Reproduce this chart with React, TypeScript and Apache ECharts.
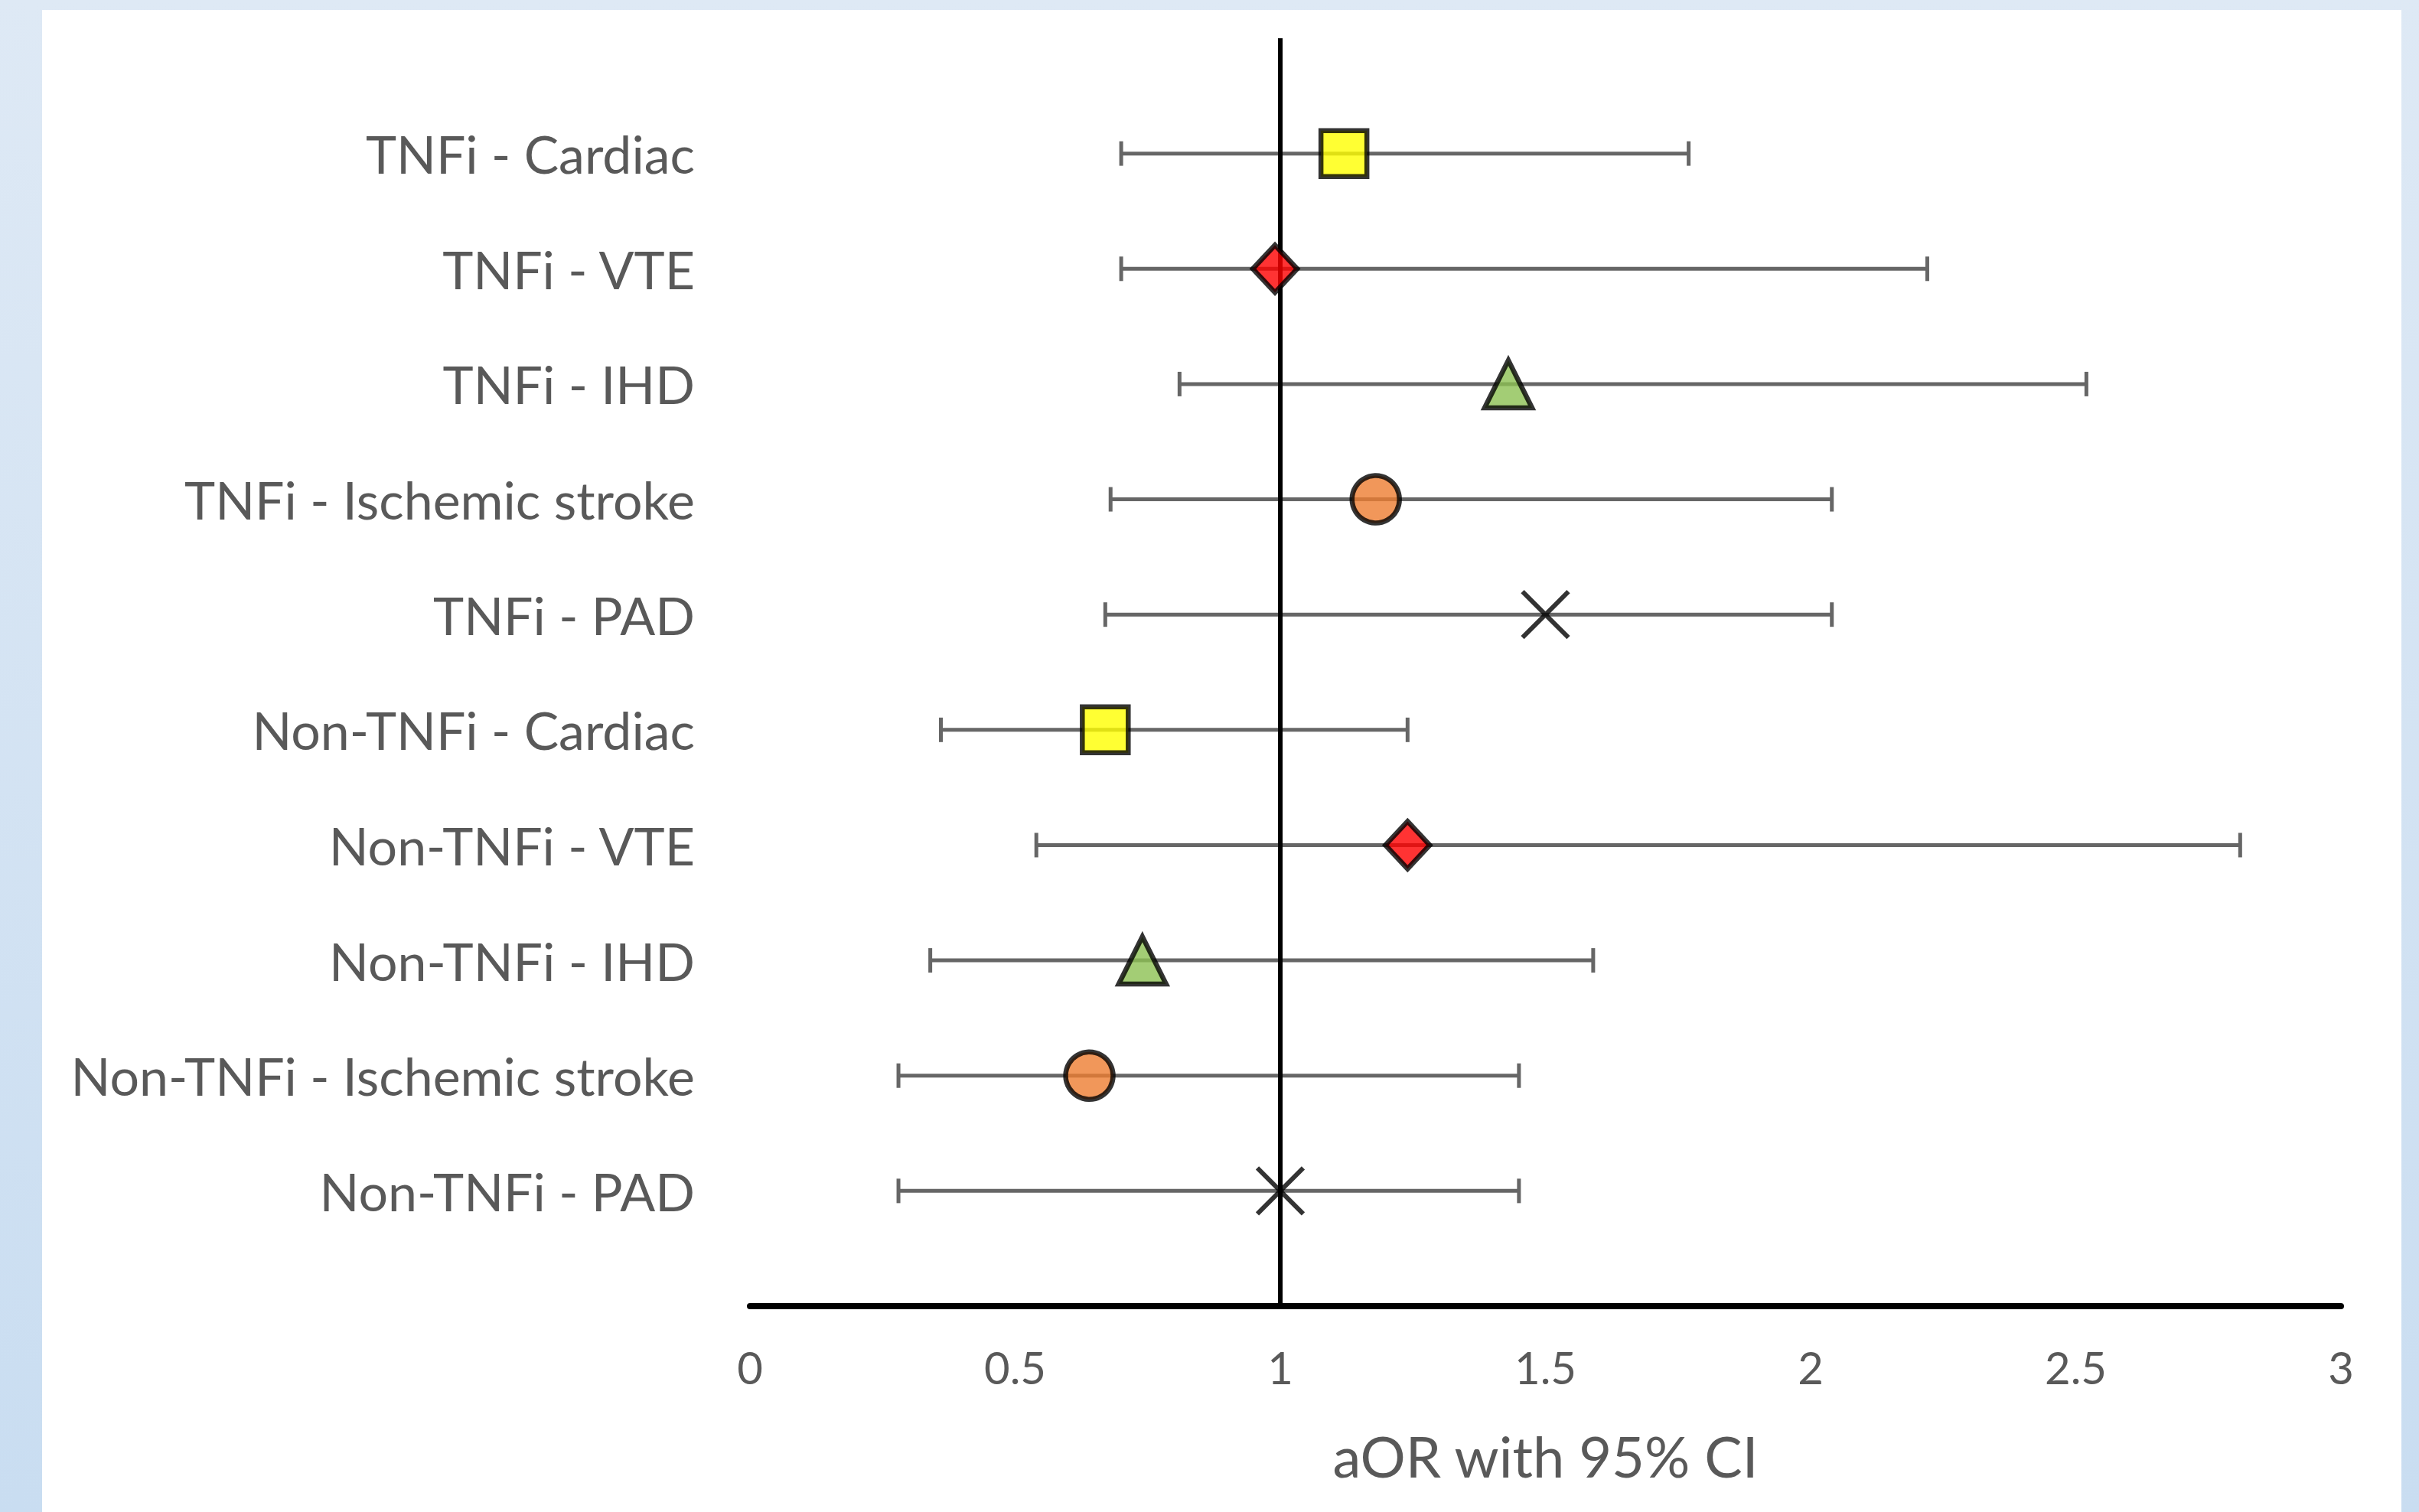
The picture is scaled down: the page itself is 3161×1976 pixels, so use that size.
import React, { useEffect, useRef } from "react";
import * as echarts from "echarts";

const categories = [
  "TNFi - Cardiac",
  "TNFi - VTE",
  "TNFi - IHD",
  "TNFi - Ischemic stroke",
  "TNFi - PAD",
  "Non-TNFi - Cardiac",
  "Non-TNFi - VTE",
  "Non-TNFi - IHD",
  "Non-TNFi - Ischemic stroke",
  "Non-TNFi - PAD",
];
const aor = [1.12, 0.99, 1.43, 1.18, 1.5, 0.67, 1.24, 0.74, 0.64, 1.0];
const ciLow = [0.7, 0.7, 0.81, 0.68, 0.67, 0.36, 0.54, 0.34, 0.28, 0.28];
const ciHigh = [1.77, 2.22, 2.52, 2.04, 2.04, 1.24, 2.81, 1.59, 1.45, 1.45];
const outcomes = ["Cardiac", "VTE", "IHD", "Ischemic stroke", "PAD"];
const xTicks = [0, 0.5, 1, 1.5, 2, 2.5, 3];

const FONT = "Lato";
const TEXT = "#595959";

export default function App() {
  const ref = useRef<HTMLDivElement>(null);
  useEffect(() => {
    if (!ref.current) return;
    const chart = echarts.init(ref.current, undefined, { renderer: "svg" });
    const n = categories.length;
    const yOf = (i: number) => n - i;

    const symbolFor: Record<string, any> = {
      Cardiac: { symbol: "rect", color: "#FFFF00", size: 60 },
      VTE: { symbol: "diamond", color: "#FF0000", size: [58, 62] },
      IHD: { symbol: "triangle", color: "#8CC152", size: [62, 62] },
      "Ischemic stroke": { symbol: "circle", color: "#ED7D31", size: 62 },
      PAD: { symbol: "path://M0,0L10,10M10,0L0,10", color: "rgba(0,0,0,0)", size: 60 },
    };

    const errData = categories.map((_, i) => [ciLow[i], ciHigh[i], yOf(i)]);

    const scatterSeries = outcomes.map((o, k) => {
      const s = symbolFor[o];
      const data: number[][] = [];
      categories.forEach((_, i) => {
        if (i % outcomes.length === k) data.push([aor[i], yOf(i)]);
      });
      return {
        type: "scatter",
        name: o,
        z: 5,
        symbol: s.symbol,
        symbolSize: s.size,
        itemStyle: {
          color: s.color,
          borderColor: "#000",
          borderWidth: o === "PAD" ? 6 : 6.5,
        },
        data,
      };
    });

    chart.setOption({
      animation: false,
      backgroundColor: "transparent",
      grid: { left: 980, right: 102, top: 50, bottom: 269, containLabel: false },
      xAxis: {
        type: "value",
        min: 0,
        max: 3,
        interval: 0.5,
        axisLine: { show: true, lineStyle: { color: "#000", width: 8 } },
        axisTick: { show: false },
        splitLine: { show: false },
        axisLabel: {
          color: TEXT,
          fontFamily: FONT,
          fontSize: 58,
          margin: 50,
          formatter: (v: number) => (xTicks.includes(v) ? String(v) : ""),
        },
        name: "aOR with 95% CI",
        nameLocation: "middle",
        nameGap: 158,
        nameTextStyle: { color: TEXT, fontFamily: FONT, fontSize: 74 },
      },
      yAxis: {
        type: "value",
        min: 0,
        max: 11,
        interval: 1,
        axisLine: { show: false },
        axisTick: { show: false },
        splitLine: { show: false },
        axisLabel: {
          color: TEXT,
          fontFamily: FONT,
          fontSize: 68,
          margin: 72,
          formatter: (v: number) => {
            const i = n - v;
            return i >= 0 && i < n && v >= 1 ? categories[i] : "";
          },
        },
      },
      series: [
        {
          type: "custom",
          name: "CI",
          z: 1,
          data: errData,
          renderItem: (params: any, api: any) => {
            const lo = api.coord([api.value(0), api.value(2)]);
            const hi = api.coord([api.value(1), api.value(2)]);
            const cap = 16;
            const style = { stroke: "#666666", lineWidth: 5 };
            return {
              type: "group",
              children: [
                { type: "line", shape: { x1: lo[0], y1: lo[1], x2: hi[0], y2: hi[1] }, style },
                { type: "line", shape: { x1: lo[0], y1: lo[1] - cap, x2: lo[0], y2: lo[1] + cap }, style },
                { type: "line", shape: { x1: hi[0], y1: hi[1] - cap, x2: hi[0], y2: hi[1] + cap }, style },
              ],
            };
          },
        },
        {
          type: "line",
          name: "ref",
          z: 3,
          data: [],
          markLine: {
            silent: true,
            symbol: ["none", "none"],
            label: { show: false },
            lineStyle: { color: "#000", width: 6, type: "solid" },
            data: [{ xAxis: 1 }],
          },
        },
        ...scatterSeries,
      ],
    });
    return () => chart.dispose();
  }, []);

  return (
    <div
      style={{
        position: "absolute",
        left: 0,
        top: 0,
        width: 3161,
        height: 1976,
        background: "linear-gradient(180deg, #dee9f5 0%, #c9ddf1 100%)",
        overflow: "hidden",
      }}
    >
      <div
        style={{
          position: "absolute",
          left: 55,
          top: 13,
          width: 3083,
          height: 1963,
          background: "#ffffff",
        }}
      />
      <div ref={ref} style={{ position: "absolute", left: 0, top: 0, width: 3161, height: 1976 }} />
    </div>
  );
}
